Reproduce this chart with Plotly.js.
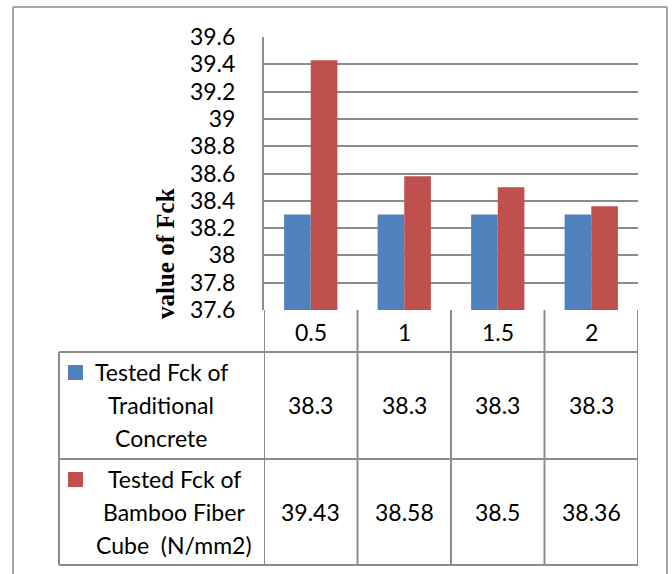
<!DOCTYPE html>
<html>
<head>
<meta charset="utf-8">
<script src="https://cdn.plot.ly/plotly-3.0.1.min.js"></script>
<style>html,body{margin:0;padding:0;background:#fff;}#chart{width:672px;height:574px;}</style>
</head>
<body>
<div id="chart"></div>
<script>
// ---- data ----
const categories = ['0.5', '1', '1.5', '2'];
const traditional = [38.3, 38.3, 38.3, 38.3];
const bamboo = [39.43, 38.58, 38.5, 38.36];
const seriesNames = [
  ['Tested Fck of', 'Traditional', 'Concrete'],
  ['Tested Fck of', 'Bamboo Fiber', 'Cube  (N/mm2)']
];
const seriesColors = ['#4F81BD', '#C0504D'];
const yTickVals = [37.6, 37.8, 38, 38.2, 38.4, 38.6, 38.8, 39, 39.2, 39.4, 39.6];
const yTickText = ['37.6', '37.8', '38', '38.2', '38.4', '38.6', '38.8', '39', '39.2', '39.4', '39.6'];
const yTitle = 'value of Fck';

// ---- layout helpers (pixel -> paper) ----
const W = 672, H = 574;
const M = {l: 264, r: 34, t: 37, b: 264};
const PW = W - M.l - M.r, PH = H - M.t - M.b;
const px = p => (p - M.l) / PW;
const py = p => (H - M.b - p) / PH;

const gridColor = '#8c8c8c';
const FONT = 'Lato, "Open Sans", sans-serif';
const FS = 23;

const series = [traditional, bamboo];
const traces = series.map((vals, i) => ({
  type: 'bar', x: categories, y: vals, name: seriesNames[i].join(' '),
  marker: {color: seriesColors[i], line: {width: 0}},
  hoverinfo: 'skip'
}));

const shapes = [];
const annotations = [];
const lineStyle = {color: gridColor, width: 2};

// table rows (pixel y boundaries)
const rowCat = 352, row1 = 459, row2 = 565;
const tableLeft = 59;
// horizontal table lines
[rowCat, row1, row2].forEach(yv => shapes.push({type: 'line', xref: 'paper', yref: 'paper', x0: px(tableLeft), x1: 1, y0: py(yv), y1: py(yv), line: lineStyle}));
// vertical table lines at category boundaries
for (let k = 0; k <= categories.length; k++) {
  shapes.push({type: 'line', xref: 'x', yref: 'paper', x0: k - 0.5, x1: k - 0.5, y0: 0, y1: py(row2), line: lineStyle});
}
shapes.push({type: 'line', xref: 'paper', yref: 'paper', x0: px(tableLeft), x1: px(tableLeft), y0: py(rowCat), y1: py(row2), line: lineStyle});

// outer frame
const frame = {color: '#a6a6a6', width: 2};
shapes.push({type: 'line', xref: 'paper', yref: 'paper', x0: px(13), x1: px(13), y0: py(7), y1: py(600), line: frame});
shapes.push({type: 'line', xref: 'paper', yref: 'paper', x0: px(13), x1: px(667), y0: py(7), y1: py(7), line: frame});
shapes.push({type: 'line', xref: 'paper', yref: 'paper', x0: px(667), x1: px(667), y0: py(7), y1: py(600), line: frame});

// category labels
categories.forEach((c, k) => annotations.push({xref: 'x', yref: 'paper', x: k, y: py(332), text: c, showarrow: false, font: {family: FONT, size: FS, color: '#000'}, xanchor: 'center', yanchor: 'middle'}));

// data values and legend cells
const rowCenters = [405, 512];
const legendCenters = [161, 174];
const squareTop = [365, 472];
series.forEach((vals, i) => {
  vals.forEach((v, k) => annotations.push({xref: 'x', yref: 'paper', x: k, y: py(rowCenters[i]), text: String(v), showarrow: false, font: {family: FONT, size: FS, color: '#000'}, xanchor: 'center', yanchor: 'middle'}));
  seriesNames[i].forEach((line, j) => annotations.push({xref: 'paper', yref: 'paper', x: px(legendCenters[i]), y: py(rowCenters[i] + (j - 1) * 33), text: line.replace(/  /g, '&nbsp; '), showarrow: false, font: {family: FONT, size: FS, color: '#000'}, xanchor: 'center', yanchor: 'middle'}));
  shapes.push({type: 'rect', xref: 'paper', yref: 'paper', x0: px(68), x1: px(83), y0: py(squareTop[i]), y1: py(squareTop[i] + 15), fillcolor: seriesColors[i], line: {width: 0}});
});

// y title
annotations.push({xref: 'paper', yref: 'paper', x: px(165), y: py(254), text: '<b>' + yTitle + '</b>', textangle: -90, showarrow: false, font: {family: '"Liberation Serif", "Times New Roman", serif', size: 25, color: '#000'}, xanchor: 'center', yanchor: 'middle'});

const layout = {
  width: W, height: H,
  margin: M,
  paper_bgcolor: '#fff', plot_bgcolor: '#fff',
  showlegend: false,
  barmode: 'group', bargap: 0.43, bargroupgap: 0,
  xaxis: {type: 'category', range: [-0.5, 3.5], showticklabels: false, showgrid: false, zeroline: false, showline: false, ticks: ''},
  yaxis: {range: [37.6, 39.6], tickvals: yTickVals, ticktext: yTickText, showgrid: true, gridcolor: gridColor, gridwidth: 2,
          zeroline: false, showline: true, linecolor: gridColor, linewidth: 2, ticks: '', ticklabelstandoff: 22,
          tickfont: {family: FONT, size: FS, color: '#000'}},
  shapes: shapes,
  annotations: annotations
};

Plotly.newPlot('chart', traces, layout, {displayModeBar: false, staticPlot: true});
</script>
</body>
</html>
